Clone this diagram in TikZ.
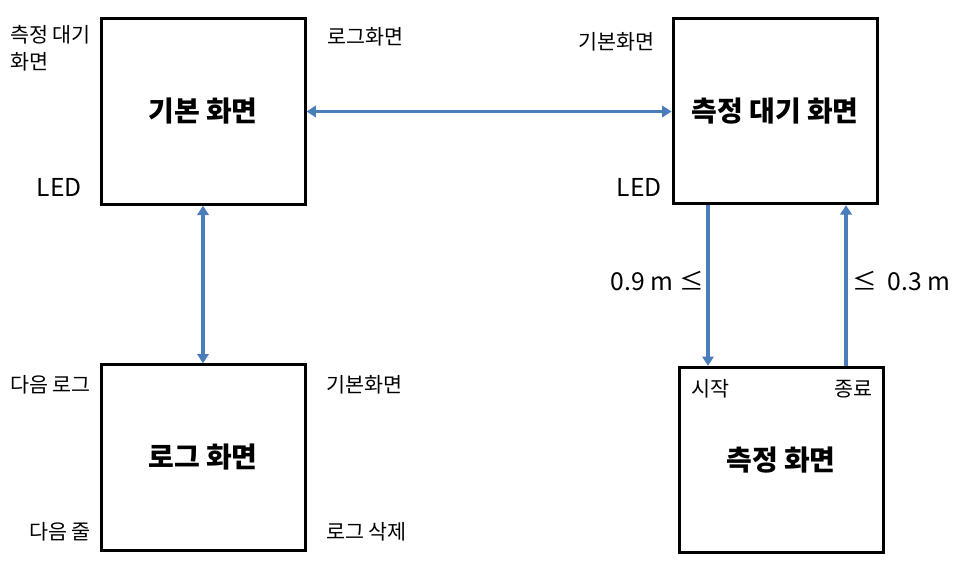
\documentclass[tikz,border=0pt]{standalone}
\usepackage{fontspec}
\setmainfont{Noto Sans CJK KR}
\usetikzlibrary{arrows.meta}
\definecolor{arrblue}{RGB}{74,126,187}
\begin{document}
\begin{tikzpicture}[x=0.75pt,y=-0.75pt,
  screen/.style={draw=black,line width=2.25pt,minimum width=153pt,minimum height=139pt,inner sep=0pt,font=\fontsize{21}{25}\selectfont\bfseries},
  lbl/.style={inner sep=0pt,font=\fontsize{15.5}{20}\selectfont},
  biglbl/.style={inner sep=0pt,font=\fontsize{18.5}{22}\selectfont},
  arr/.style={draw=arrblue,line width=2.6pt,-{Triangle[length=7pt,width=8.5pt]}},
  biarr/.style={draw=arrblue,line width=2.6pt,{Triangle[length=7pt,width=8.5pt]}-{Triangle[length=7pt,width=8.5pt]}}]
\useasboundingbox (0,0) rectangle (962,560);
\node[screen] (b1) at (203,111.5) {기본 화면};
\node[screen] (b2) at (775,111) {측정 대기 화면};
\node[screen] (b3) at (203,457.5) {로그 화면};
\node[screen] (b4) at (781,460) {측정 화면};
% labels
\node[lbl,anchor=west,align=left] (l1) at (10,48.5) {측정 대기\\화면};
\node[biglbl,anchor=east] (l2) at (82,187) {LED};
\node[lbl,anchor=west] (l3) at (327,37) {로그화면};
\node[lbl,anchor=east] (l4) at (655,42) {기본화면};
\node[biglbl,anchor=east] (l5) at (662,187) {LED};
\node[biglbl,anchor=east] (l6) at (704,281) {0.9\ m\ ≤};
\node[biglbl,anchor=west] (l7) at (852,281) {≤\ \ 0.3\ m};
\node[lbl,anchor=west] (l8) at (691,389) {시작};
\node[lbl,anchor=east] (l9) at (873,389) {종료};
\node[lbl,anchor=east] (l10) at (91,385) {다음 로그};
\node[lbl,anchor=west] (l11) at (326,385) {기본화면};
\node[lbl,anchor=east] (l12) at (91,532) {다음 줄};
\node[lbl,anchor=west] (l13) at (326,532) {로그 삭제};
% connectors
\coordinate (xd) at (708,0);
\coordinate (xu) at (846,0);
\draw[biarr] (b1.east) -- (b1.east -| b2.west);
\draw[biarr] (b1.south) -- (b3.north);
\draw[arr] (b2.south -| xd) -- (b4.north -| xd);
\draw[arr] (b4.north -| xu) -- (b2.south -| xu);
\end{tikzpicture}
\end{document}
